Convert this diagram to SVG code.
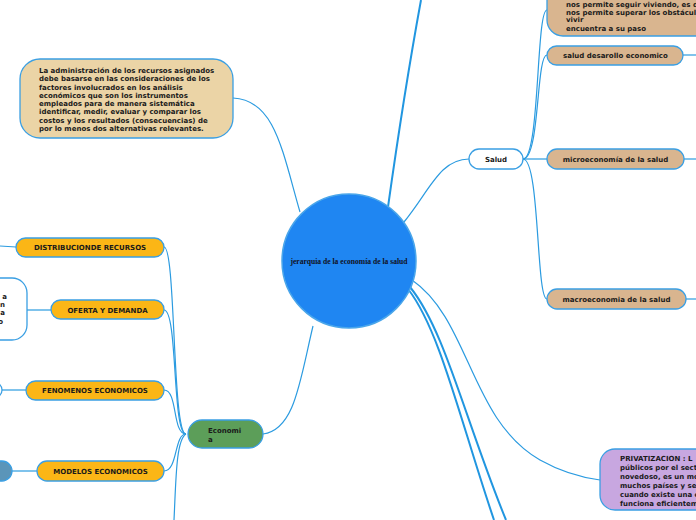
<svg xmlns="http://www.w3.org/2000/svg" width="696" height="520" viewBox="0 0 696 520">
<style>
.c{fill:none;stroke:#2b9be0;stroke-width:1.2}
.c2{fill:none;stroke:#2196e0;stroke-width:2}
.n{stroke:#3a9fe3;stroke-width:1.3}
.t{font-family:"DejaVu Sans",Verdana,sans-serif;font-weight:bold;font-size:7px;fill:#1a1a1a}
.m{text-anchor:middle}
</style>
<rect width="696" height="520" fill="#ffffff"/>
<g id="connectors">
<path class="c" d="M233,98 C275,100 282,150 300,212"/>
<path class="c2" d="M388,207 C396,150 410,60 421,0"/>
<path class="c" d="M404,222 C430,190 440,159 469,159"/>
<path class="c" d="M523,159 C540,159 536,10 547,10"/>
<path class="c" d="M523,159 C540,159 536,55 547,55"/>
<path class="c" d="M523,159 L547,159"/>
<path class="c" d="M523,159 C540,159 536,299 547,299"/>
<path class="c" d="M683,55 L696,55"/>
<path class="c" d="M684,159 L696,159"/>
<path class="c" d="M686,299 L696,299"/>
<path class="c" d="M412,280 C470,320 470,420 540,460 C565,474 585,478 600,480"/>
<path class="c2" d="M408,289 C440,330 460,420 494,520"/>
<path class="c2" d="M410,287 C445,330 465,420 506,520"/>
<path class="c" d="M313,326 C300,380 295,430 263,434"/>
<path class="c" d="M164,247 C176,247 172,434 186,434"/>
<path class="c" d="M164,310 C178,310 172,434 186,434"/>
<path class="c" d="M164,390 C178,390 172,434 186,434"/>
<path class="c" d="M164,471 C178,471 174,434 186,434"/>
<path class="c" d="M186,434 C176,440 176,480 174,520"/>
<path class="c" d="M16,247 L0,246"/>
<path class="c" d="M51,310 L27,310"/>
<path class="c" d="M26,390 L2,390"/>
<path class="c" d="M37,471 L12,471"/>
</g>
<g id="center">
<circle cx="349" cy="261" r="67" fill="#1f86f2" stroke="#4aa6ea" stroke-width="1.5"/>
<text x="349" y="263.5" class="m" font-family="'Liberation Serif',serif" font-weight="bold" font-size="7.6" fill="#111122">jerarquia de la economía de la salud</text>
</g>
<g id="admin">
<rect class="n" x="20" y="59" width="213" height="79" rx="20" fill="#ebd4a6"/>
<text class="t" font-size="7.3"><tspan x="39" y="73">La administración de los recursos asignados</tspan><tspan x="39" y="81.3">debe basarse en las consideraciones de los</tspan><tspan x="39" y="89.5">factores involucrados en los análisis</tspan><tspan x="39" y="97.8">económicos que son los instrumentos</tspan><tspan x="39" y="106">empleados para de manera sistemática</tspan><tspan x="39" y="114.3">identificar, medir, evaluar y comparar los</tspan><tspan x="39" y="122.5">costos y los resultados (consecuencias) de</tspan><tspan x="39" y="130.8">por lo menos dos alternativas relevantes.</tspan></text>
</g>
<g id="salud">
<rect class="n" x="469" y="149" width="54" height="20" rx="10" fill="#ffffff"/>
<text class="t m" x="496" y="161.5">Salud</text>
</g>
<g id="vida">
<rect class="n" x="547" y="-30" width="180" height="66" rx="16" fill="#d9b58f"/>
<text class="t"><tspan x="566" y="6.5">nos permite seguir viviendo, es d</tspan><tspan x="566" y="14.5">nos permite superar los obstáculo</tspan><tspan x="566" y="22">vivir</tspan><tspan x="566" y="30.5">encuentra a su paso</tspan></text>
</g>
<g id="desarrollo">
<rect class="n" x="547" y="46" width="136" height="19" rx="9.5" fill="#d9b58f"/>
<text class="t" x="563" y="58">salud desarollo economico</text>
</g>
<g id="micro">
<rect class="n" x="547" y="149" width="137" height="20" rx="10" fill="#d9b58f"/>
<text class="t m" x="615.5" y="161.5">microeconomía de la salud</text>
</g>
<g id="macro">
<rect class="n" x="547" y="289" width="139" height="20" rx="10" fill="#d9b58f"/>
<text class="t m" x="616.5" y="301.5">macroeconomia de la salud</text>
</g>
<g id="privatizacion">
<rect class="n" x="600" y="449" width="130" height="61" rx="15" fill="#c8a7e0"/>
<text class="t" font-size="7.2"><tspan x="620" y="460.5">PRIVATIZACION : L</tspan><tspan x="620" y="469.5">públicos por el sect</tspan><tspan x="620" y="478.5">novedoso, es un mo</tspan><tspan x="620" y="487.5">muchos países y se</tspan><tspan x="620" y="496.5">cuando existe una e</tspan><tspan x="620" y="505.5">funciona eficientem</tspan></text>
</g>
<g id="economia">
<rect class="n" x="188" y="420" width="75" height="28" rx="14" fill="#5c9e59"/>
<text class="t"><tspan x="208" y="432.5">Economi</tspan><tspan x="208" y="442">a</tspan></text>
</g>
<g id="distribucion">
<rect class="n" x="16" y="238" width="148" height="19" rx="9.5" fill="#fbb616"/>
<text class="t m" x="90" y="250">DISTRIBUCIONDE RECURSOS</text>
</g>
<g id="oferta">
<rect class="n" x="51" y="300" width="113" height="19" rx="9.5" fill="#fbb616"/>
<text class="t m" x="107.5" y="312.5">OFERTA Y DEMANDA</text>
</g>
<g id="fenomenos">
<rect class="n" x="26" y="381" width="138" height="19" rx="9.5" fill="#fbb616"/>
<text class="t m" x="95" y="393">FENOMENOS ECONOMICOS</text>
</g>
<g id="modelos">
<rect class="n" x="37" y="461" width="127" height="20" rx="10" fill="#fbb616"/>
<text class="t m" x="100.5" y="473.5">MODELOS ECONOMICOS</text>
</g>
<g id="oferta-detalle">
<rect class="n" x="-60" y="278" width="87" height="62" rx="15" fill="#ffffff"/>
<text class="t" text-anchor="end"><tspan x="7" y="298.5">a</tspan><tspan x="5" y="306.5">n</tspan><tspan x="5" y="315">a</tspan><tspan x="3" y="323.5">o</tspan></text>
</g>
<g id="fenomenos-detalle">
<rect class="n" x="-20" y="382" width="22" height="16" rx="8" fill="#ffffff"/>
</g>
<g id="modelos-detalle">
<rect class="n" x="-30" y="461" width="42" height="20" rx="10" fill="#5b95b9"/>
</g>
</svg>
